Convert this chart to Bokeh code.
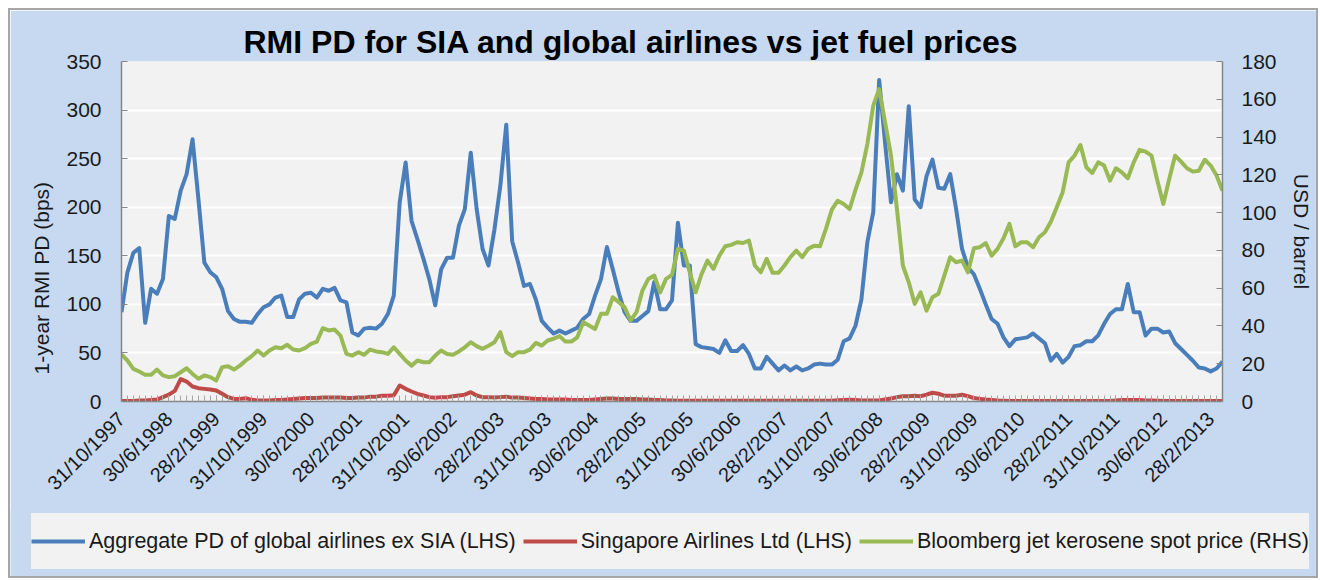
import math
from bokeh.plotting import figure
from bokeh.layouts import column
from bokeh.models import (Range1d, LinearAxis, FixedTicker, Legend, LegendItem, Title)
from bokeh.embed import file_html
from bokeh.resources import INLINE

# ---- data (monthly, 31/10/1997 .. 30/4/2013) ----
TICK_LABELS = ["31/10/1997", "30/6/1998", "28/2/1999", "31/10/1999", "30/6/2000",
               "28/2/2001", "31/10/2001", "30/6/2002", "28/2/2003", "31/10/2003",
               "30/6/2004", "28/2/2005", "31/10/2005", "30/6/2006", "28/2/2007",
               "31/10/2007", "30/6/2008", "28/2/2009", "31/10/2009", "30/6/2010",
               "28/2/2011", "31/10/2011", "30/6/2012", "28/2/2013"]

global_pd = [92, 133, 153, 158, 81, 116, 111, 126, 191, 188, 217, 234, 270, 208, 143, 133,
             128, 116, 93, 85, 82, 82, 81, 90, 97, 100, 107, 109, 87, 87, 105, 111,
             112, 107, 116, 114, 117, 104, 102, 71, 68, 75, 76, 75, 80, 90, 109, 205,
             246, 186, 167, 147, 126, 99, 136, 148, 148, 181, 198, 256, 198, 157, 140,
             177, 222, 285, 165, 143, 119, 121, 105, 83, 76, 70, 73, 70, 73, 76, 85,
             90, 109, 126, 159, 136, 112, 92, 83, 83, 88, 93, 123, 95, 95, 104,
             184, 140, 140, 59, 56, 55, 54, 50, 63, 52, 52, 58, 49, 34, 34, 46,
             39, 32, 37, 32, 36, 32, 34, 38, 39, 38, 38, 43, 62, 65, 78,
             105, 164, 195, 331, 266, 205, 234, 217, 304, 208, 200, 232, 249, 220, 219, 234,
             198, 157, 138, 131, 116, 100, 85, 80, 66, 57, 64, 65, 66, 70, 65,
             60, 42, 49, 40, 46, 57, 58, 62, 62, 68, 80, 90, 95, 95, 121, 92,
             92, 68, 75, 75, 71, 72, 60, 54, 48, 42, 35, 34, 31, 34, 41]

sia_pd = [0.5, 0.5, 0.5, 1, 1, 1.5, 2, 4.5, 7, 11, 23, 20.5, 15.4, 13.7, 13, 12.3,
          11.3, 7.9, 4.5, 2.7, 2.7, 3.4, 1.7, 1, 1, 1, 1.5, 1.5, 2, 2.5, 3, 3.5,
          3.5, 3.5, 4, 4, 4, 4, 3.5, 3.5, 4, 4, 5, 5, 6, 6, 6.5, 16.4,
          13, 10.3, 7.9, 6.2, 4.5, 3.8, 4.5, 4.5, 5.5, 6.2, 7, 9.6, 6.2, 4.5, 4.5,
          4, 4.5, 5, 4, 4, 3.5, 3, 2.5, 2.5, 2, 2, 2, 2, 1.5, 1.5, 1.5,
          1.5, 2, 2.5, 3, 3, 2.5, 2.5, 2.5, 2.5, 2, 2, 1.5, 1.5, 1, 1,
          0.8, 0.8, 0.8, 0.8, 0.8, 0.8, 0.8, 0.8, 0.8, 0.8, 0.8, 0.8, 0.8, 0.8, 0.8, 0.8,
          0.8, 0.8, 0.8, 0.8, 0.8, 0.8, 0.8, 0.8, 0.8, 0.8, 0.8, 1.2, 1.5, 1.8, 1.5,
          1, 1, 1, 1, 2, 3, 4.5, 5.5, 5.5, 6, 5.5, 7, 9, 8, 6, 6,
          6, 7, 5.5, 3.5, 2.7, 2, 1.5, 1, 0.7, 0.5, 0.5, 0.5, 0.5, 0.5, 0.5,
          0.5, 0.5, 0.5, 0.5, 0.5, 0.5, 0.5, 0.5, 0.5, 0.5, 0.5, 0.5, 1, 1.5, 1.5, 1.5,
          1.5, 1, 1, 0.8, 0.5, 0.5, 0.5, 0.5, 0.5, 0.5, 0.5, 0.5, 0.5, 0.5, 0.5]

jet_fuel = [24.9, 21.7, 17.3, 15.9, 14.1, 14.1, 16.9, 13.8, 12.9, 13.4, 15.5, 17.6, 14.6, 12.0, 13.8, 12.9,
            11.1, 18.2, 18.7, 16.9, 19.0, 21.7, 24.0, 27.0, 24.3, 27.0, 28.7, 28.2, 30.0, 27.5, 27.0, 28.3,
            30.5, 31.7, 38.8, 37.6, 38.1, 34.9, 25.2, 24.3, 26.1, 24.7, 27.5, 26.5, 26.1, 25.2, 28.7, 25.2,
            21.7, 19.0, 21.7, 20.8, 20.8, 24.3, 27.0, 25.2, 24.7, 26.5, 28.7, 31.4, 29.3, 27.9, 29.5,
            31.4, 36.7, 26.1, 24.0, 26.1, 26.1, 27.5, 31.0, 29.6, 32.3, 33.2, 34.6, 31.7, 31.7, 34.0, 42.0,
            40.2, 38.4, 46.4, 46.4, 55.2, 52.6, 49.9, 42.9, 47.3, 58.7, 64.9, 66.7, 57.8, 64.9, 67.0,
            80.8, 79.9, 68.4, 57.8, 67.5, 74.6, 70.2, 77.2, 82.2, 82.9, 84.3, 83.9, 85.2, 72.0, 68.4, 75.5,
            68.1, 68.1, 72.0, 76.4, 79.9, 76.4, 80.8, 82.5, 82.2, 91.4, 101.6, 106.3, 104.6, 101.9, 112,
            121.3, 136.3, 156.6, 165.4, 147.8, 130.2, 101.9, 72.0, 63.1, 51.7, 57.8, 48.1, 55.2, 57.0, 66.7, 76.4,
            73.7, 74.6, 68.4, 81.1, 81.7, 83.9, 77.2, 80.8, 86.4, 94.0, 82.2, 84.3, 84.3, 81.7, 87,
            89.6, 95.2, 102.8, 110.8, 126.6, 130.2, 135.8, 124.0, 121.0, 126.6, 124.9, 116.9, 123.5, 121.3, 118.2, 126.6,
            133.2, 132.3, 130.2, 116.9, 104.6, 117.8, 130.2, 127.0, 123.5, 121.7, 122.2, 128.0, 124.9, 119.6, 111.6]

LEFT_TICKS = [0, 50, 100, 150, 200, 250, 300, 350]
RIGHT_TICKS = [0, 20, 40, 60, 80, 100, 120, 140, 160, 180]
SERIES_NAMES = ["Aggregate PD of global airlines ex SIA (LHS)",
                "Singapore Airlines Ltd (LHS)",
                "Bloomberg jet kerosene spot price (RHS)"]
COLORS = ["#4A7EBB", "#BE4B48", "#98B954"]

N = len(global_pd)
months = list(range(N))
major_ticks = list(range(0, N, 8))[:len(TICK_LABELS)]

FONT = "Liberation Sans"
TXT = "#1a1a1a"
AX = "#868686"
BG_OUT = "#C6D9F1"
BG_IN = "#F2F2F2"

p = figure(width=1306, height=500, output_backend="svg", toolbar_location=None,
           x_range=Range1d(0, N - 1), y_range=Range1d(0, 350),
           min_border_left=111, min_border_right=94, min_border_top=51,
           min_border_bottom=109, background_fill_color=BG_IN,
           border_fill_color=BG_OUT, outline_line_color=None)
p.frame_align = False
p.extra_y_ranges = {"rhs": Range1d(0, 180)}

p.line(months, global_pd, line_color=COLORS[0], line_width=4, line_join="round")
p.line(months, sia_pd, line_color=COLORS[1], line_width=4, line_join="round")
p.line(months, jet_fuel, line_color=COLORS[2], line_width=4, line_join="round",
       y_range_name="rhs")

# x axis
xa = p.xaxis[0]
xa.ticker = FixedTicker(ticks=major_ticks, minor_ticks=months)
xa.major_label_overrides = {t: lab for t, lab in zip(major_ticks, TICK_LABELS)}
xa.major_label_orientation = math.pi / 4
xa.major_label_standoff = 14

# left axis (title sits lower than centre in the original; padded with no-break spaces)
ya = p.yaxis[0]
ya.ticker = FixedTicker(ticks=LEFT_TICKS)
ya.axis_label = "1-year  RMI PD (bps)" + "\u00a0" * 15
ya.major_label_standoff = 20
ya.axis_label_standoff = 10

# right axis
ra = LinearAxis(y_range_name="rhs", ticker=FixedTicker(ticks=RIGHT_TICKS),
                axis_label="USD / barrel")
ra.major_label_standoff = 19
ra.axis_label_standoff = 10
p.add_layout(ra, "right")

for ax in [xa, ya, ra]:
    ax.axis_line_color = AX
    ax.axis_line_width = 1.5
    ax.major_tick_line_color = AX
    ax.minor_tick_line_color = AX
    ax.major_tick_in = 6
    ax.major_tick_out = 0
    ax.minor_tick_in = 0
    ax.minor_tick_out = 0
    ax.major_label_text_font = FONT
    ax.major_label_text_font_size = "21px"
    ax.major_label_text_color = TXT
    ax.axis_label_text_font = FONT
    ax.axis_label_text_font_size = "21px"
    ax.axis_label_text_font_style = "normal"
    ax.axis_label_text_color = TXT
xa.major_label_text_font_size = "20px"
xa.minor_tick_in = 6
xa.minor_tick_line_color = "#A6A6A6"

p.xgrid.visible = False
p.ygrid.ticker = FixedTicker(ticks=LEFT_TICKS)
p.ygrid.grid_line_color = "white"
p.ygrid.grid_line_width = 2

# title
p.add_layout(Title(text="RMI PD for SIA and global airlines vs jet fuel prices",
                   align="left", offset=122, standoff=4,
                   text_font=FONT, text_font_size="32px", text_font_style="bold",
                   text_color="#000000"), "above")

# ---- legend strip (separate figure below the chart) ----
lg = figure(width=1306, height=67, output_backend="svg", toolbar_location=None,
            x_range=Range1d(0, 1), y_range=Range1d(0, 1),
            x_axis_type=None, y_axis_type=None,
            min_border_left=0, min_border_right=0, min_border_top=0, min_border_bottom=0,
            background_fill_color=BG_OUT, border_fill_color=BG_OUT,
            outline_line_color=None, styles={"margin-top": "-1px"})
lg.frame_align = False
lg.xgrid.visible = False
lg.ygrid.visible = False
items = []
for name, col in zip(SERIES_NAMES, COLORS):
    # proxy renderer placed outside the visible range, used only for the legend swatch
    r = lg.line([-2, -1], [-2, -1], line_color=col, line_width=4)
    items.append(LegendItem(label=name, renderers=[r]))

legend = Legend(items=items, location=(21, 7), orientation="horizontal")
legend.background_fill_color = BG_IN
legend.background_fill_alpha = 1
legend.border_line_color = None
legend.label_text_font = FONT
legend.label_text_font_size = "21.5px"
legend.label_text_color = TXT
legend.glyph_width = 54
legend.glyph_height = 56
legend.label_height = 56
legend.label_standoff = 4
legend.spacing = 7
legend.padding = 0
legend.margin = 0
lg.add_layout(legend, "center")

layout = column(p, lg, spacing=0,
                styles={"margin-left": "10px", "margin-top": "10px",
                        "outline": "2px solid #A6A6A6"})

open("out.html", "w").write(file_html(layout, INLINE))
